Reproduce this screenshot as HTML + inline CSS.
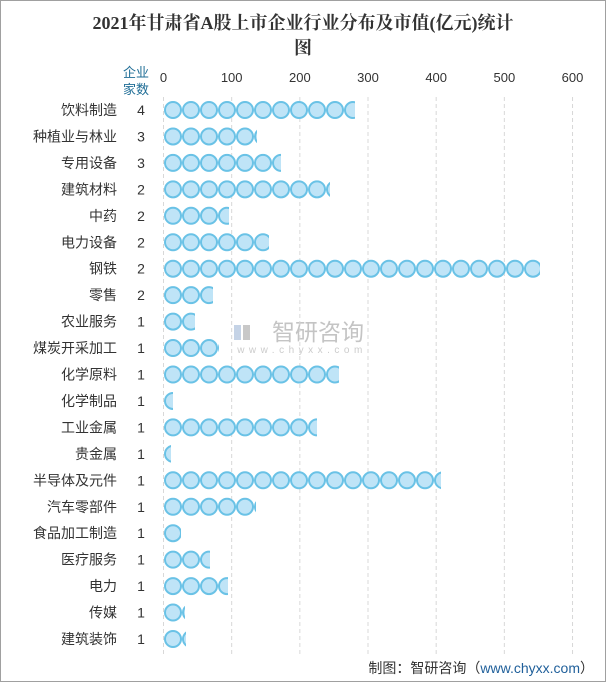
<!DOCTYPE html>
<html><head><meta charset="utf-8"><style>
html,body{margin:0;padding:0;background:#fff}
#w{position:relative;width:604px;height:680px;border:1px solid #a0a0a0;overflow:hidden}
svg text{font-family:"Liberation Sans","Noto Sans CJK SC",sans-serif}
</style></head><body><div id="w">
<svg id="s" width="604" height="680" viewBox="1 1 604 680" xmlns="http://www.w3.org/2000/svg">
<text x="303" y="29" text-anchor="middle" font-size="18" font-weight="bold" fill="#333" style="font-family:'Liberation Serif','Noto Serif CJK SC',serif">2021年甘肃省A股上市企业行业分布及市值(亿元)统计</text>
<text x="303" y="54" text-anchor="middle" font-size="18" font-weight="bold" fill="#333" style="font-family:'Liberation Serif','Noto Serif CJK SC',serif">图</text>
<text x="136" y="77" text-anchor="middle" font-size="13" fill="#1f6d96">企业</text>
<text x="136" y="94" text-anchor="middle" font-size="13" fill="#1f6d96">家数</text>
<rect x="234" y="325" width="7" height="15" fill="#c5d3e6"/>
<rect x="243" y="325" width="7" height="15" fill="#c8c8c8"/>
<text x="318" y="340" text-anchor="middle" font-size="23" fill="#c4c4c4">智研咨询</text>
<text x="302" y="353" text-anchor="middle" font-size="10" fill="#cccccc" letter-spacing="4.5">www.chyxx.com</text>
<text x="594" y="673" text-anchor="end" font-size="14" fill="#333">制图：智研咨询（<tspan fill="#1f5f9a">www.chyxx.com</tspan>）</text>
</svg></div>
<script>
var s=document.getElementById('s'),NS='http://www.w3.org/2000/svg';
function el(t,a,txt){var e=document.createElementNS(NS,t);for(var k in a)e.setAttribute(k,a[k]);if(txt!=null)e.textContent=txt;s.appendChild(e);return e;}
var x0=163.5,sc=0.6817;
for(var i=0;i<=6;i++){var x=x0+i*100*sc;
el('line',{x1:x,x2:x,y1:97,y2:655,stroke:'#d8d8d8','stroke-dasharray':'4,3','stroke-width':1});
el('text',{x:x,y:82,'text-anchor':'middle','font-size':13,fill:'#333'},String(i*100));}
var d=[["饮料制造",4,355],["种植业与林业",3,257],["专用设备",3,281],["建筑材料",2,330],["中药",2,229],["电力设备",2,269],["钢铁",2,540],["零售",2,213],["农业服务",1,195],["煤炭开采加工",1,219],["化学原料",1,339],["化学制品",1,173],["工业金属",1,317],["贵金属",1,171],["半导体及元件",1,441],["汽车零部件",1,256],["食品加工制造",1,181],["医疗服务",1,210],["电力",1,228],["传媒",1,185],["建筑装饰",1,186]];
d.forEach(function(r,i){var y=110+i*26.45;
el('text',{x:117,y:y+5,'text-anchor':'end','font-size':14,fill:'#333'},r[0]);
el('text',{x:141,y:y+5,'text-anchor':'middle','font-size':14,fill:'#333'},String(r[1]));
var cp=el('clipPath',{id:'c'+i});var rc=document.createElementNS(NS,'rect');
rc.setAttribute('x',x0);rc.setAttribute('y',y-11);rc.setAttribute('width',r[2]-x0);rc.setAttribute('height',22);cp.appendChild(rc);
var g=el('g',{'clip-path':'url(#c'+i+')'});
for(var cx=x0+9.5;cx-9<r[2];cx+=18){var c=document.createElementNS(NS,'circle');
c.setAttribute('cx',cx);c.setAttribute('cy',y);c.setAttribute('r',8);c.setAttribute('fill','#bfe4f7');c.setAttribute('stroke','#6ac2e6');c.setAttribute('stroke-width',2);g.appendChild(c);}
});
</script></body></html>
